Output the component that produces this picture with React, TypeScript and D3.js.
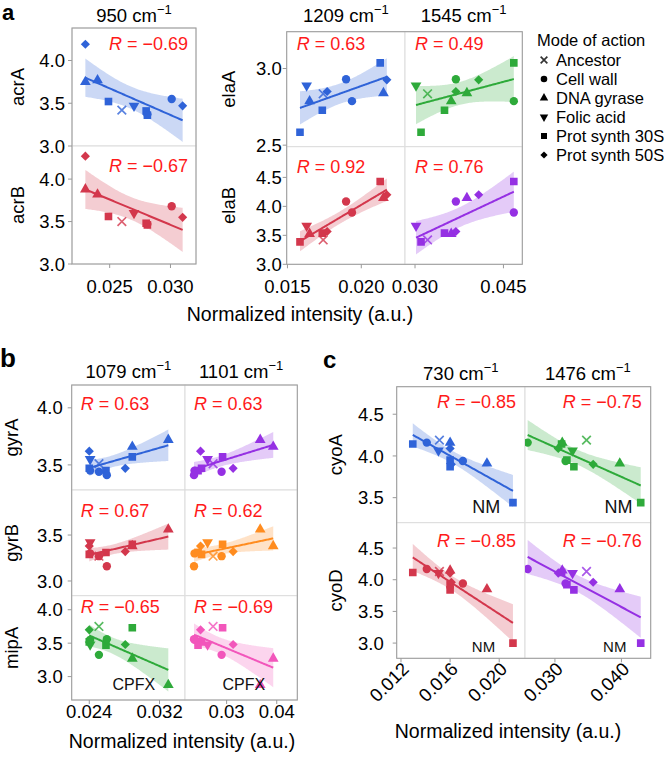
import * as d3 from 'd3';
import React from 'react';

type Shape = 'anc' | 'wall' | 'gyr' | 'fol' | 'p30' | 'p50';

// ---- panel a, 950 cm-1 : acrA / acrB
const acrShapes: Shape[] = ['p50', 'gyr', 'gyr', 'p30', 'anc', 'fol', 'p30', 'wall', 'p30', 'wall', 'p50'];
const acrX950 = [0.0230, 0.0230, 0.0240, 0.0249, 0.0260, 0.0270, 0.0280, 0.0281, 0.0281, 0.0301, 0.0310];
const acrA = [4.19, 3.75, 3.77, 3.52, 3.42, 3.47, 3.41, 3.37, 3.36, 3.55, 3.47];
const acrB = [4.27, 3.88, 3.82, 3.56, 3.50, 3.60, 3.48, 3.47, 3.46, 3.68, 3.55];

// ---- panel a, 1209 / 1545 cm-1 : elaA / elaB
const elaShapes: Shape[] = ['p30', 'fol', 'gyr', 'p30', 'anc', 'p50', 'wall', 'wall', 'p30', 'p50', 'gyr'];
const elaX1209 = [0.01585, 0.0163, 0.0165, 0.01736, 0.01742, 0.01769, 0.01897, 0.01937, 0.02128, 0.02173, 0.0215];
const elaX1545 = [0.03102, 0.03017, 0.03614, 0.0350, 0.03213, 0.03693, 0.03693, 0.04676, 0.04676, 0.0408, 0.0388];
const elaA = [2.584, 2.889, 2.787, 2.728, 2.835, 2.85, 2.93, 2.787, 3.037, 2.926, 2.84];
const elaB = [3.388, 3.665, 3.526, 3.538, 3.42, 3.566, 4.085, 3.894, 4.43, 4.2, 4.147];

// ---- panel b, 1079 / 1101 cm-1 : gyrA / gyrB / mipA
const gyrShapes: Shape[] = ['p50', 'fol', 'p30', 'wall', 'anc', 'wall', 'p30', 'wall', 'p50', 'p30', 'gyr', 'gyr'];
const gyrX1079 = [0.0240, 0.0241, 0.0240, 0.0241, 0.0251, 0.0251, 0.0259, 0.0260, 0.0281, 0.0289, 0.0289, 0.0330];
const gyrX1101 = [0.0248, 0.0262, 0.0250, 0.0236, 0.0273, 0.0290, 0.0243, 0.0235, 0.0313, 0.0292, 0.0393, 0.0367];
const gyrA = [3.62, 3.55, 3.47, 3.45, 3.51, 3.44, 3.45, 3.41, 3.47, 3.57, 3.66, 3.72];
const gyrB = [3.38, 3.42, 3.29, 3.30, 3.27, 3.27, 3.31, 3.16, 3.32, 3.40, 3.38, 3.56];
const mipA = [3.70, 3.48, 3.52, 3.55, 3.75, 3.325, 3.47, 3.56, 3.48, 3.73, 3.27, 2.875];

// ---- panel c, 730 / 1476 cm-1 : cyoA / cyoD
const cyoShapes: Shape[] = ['p30', 'wall', 'anc', 'fol', 'gyr', 'p50', 'p30', 'p30', 'wall', 'gyr', 'p30', 'p50'];
const cyoX730 = [0.01296, 0.0141, 0.01513, 0.01505, 0.0160, 0.0160, 0.0160, 0.0160, 0.01704, 0.0190, 0.02112, 0.0161];
const cyoX1476 = [0.0310, 0.0259, 0.03475, 0.03265, 0.0311, 0.0305, 0.0318, 0.03285, 0.0316, 0.03975, 0.0429, 0.03575];
const cyoA = [4.144, 4.16, 4.19, 4.064, 4.16, 4.09, 3.95, 3.87, 3.94, 3.91, 3.44, 3.90];
const cyoD = [4.115, 4.17, 4.13, 4.105, 4.147, 4.105, 3.92, 3.84, 3.94, 3.85, 3.00, 3.96];

const legendNames = ['Ancestor', 'Cell wall', 'DNA gyrase', 'Folic acid', 'Prot synth 30S', 'Prot synth 50S'];
const legendShapes: Shape[] = ['anc', 'wall', 'gyr', 'fol', 'p30', 'p50'];

const BLUE = '#2f63d8';
const RED = '#d3374c';
const GREEN = '#2eaa3a';
const PURPLE = '#9530e3';
const ORANGE = '#ff8c1f';
const PINK = '#f256bb';
const FONT = "'Liberation Sans', Arial, Helvetica, sans-serif";
const TICK = 18.5;

const tQ: Record<number, number> = { 7: 2.365, 8: 2.306, 9: 2.262, 10: 2.228, 11: 2.201, 12: 2.179 };

type BandPt = { x: number; fit: number; lo: number; hi: number };

// lm fit with 95% confidence band, like geom_smooth(method = "lm")
function fitBand(xs: number[], ys: number[]): BandPt[] {
  const n = xs.length;
  const mx = d3.mean(xs)!;
  const my = d3.mean(ys)!;
  let sxx = 0, sxy = 0;
  xs.forEach((x, i) => { sxx += (x - mx) ** 2; sxy += (x - mx) * (ys[i] - my); });
  const b = sxy / sxx;
  const a = my - b * mx;
  let sse = 0;
  xs.forEach((x, i) => { sse += (ys[i] - a - b * x) ** 2; });
  const s = Math.sqrt(sse / (n - 2));
  const t = tQ[n - 2] ?? 2.2;
  const [x0, x1] = d3.extent(xs) as [number, number];
  return d3.range(81).map(i => {
    const x = x0 + ((x1 - x0) * i) / 80;
    const fit = a + b * x;
    const se = s * Math.sqrt(1 / n + (x - mx) ** 2 / sxx);
    return { x, fit, lo: fit - t * se, hi: fit + t * se };
  });
}

function symbolD(s: Shape, k = 1) {
  if (s === 'anc') return d3.symbol(d3.symbolX, 50 * k)()!;
  if (s === 'wall') return d3.symbol(d3.symbolCircle, 55 * k)()!;
  if (s === 'gyr' || s === 'fol') return d3.symbol(d3.symbolTriangle, 50 * k)()!;
  if (s === 'p30') return d3.symbol(d3.symbolSquare, 58 * k)()!;
  return d3.symbol(d3.symbolSquare, 42 * k)()!;
}
const symbolRot = (s: Shape) => (s === 'fol' ? 180 : s === 'p50' ? 45 : 0);

const Marker: React.FC<{ s: Shape; x: number; y: number; color: string; k?: number }> = ({ s, x, y, color, k = 1 }) =>
  s === 'anc' ? (
    <path d={symbolD(s, k)} transform={`translate(${x},${y})`} fill="none" stroke={color} strokeWidth={1.7} strokeOpacity={0.8} />
  ) : (
    <path d={symbolD(s, k)} transform={`translate(${x},${y}) rotate(${symbolRot(s)})`} fill={color} />
  );

type Col = { x0: number; x1: number; domain: [number, number]; ticks: number[]; fmt: string; title: string; xs: number[] };
type Row = { y0: number; y1: number; domain: [number, number]; ticks: number[]; label: string; ys: number[]; rDy: number };
type Note = { row: number; col: number; text: string; x: number; y: number; size: number };

interface BlockProps {
  id: string;
  cols: Col[];
  rows: Row[];
  shapes: Shape[];
  colors: string[][];
  rText: string[][];
  rAlign: 'left' | 'right';
  rPad: number;
  tickGap: number;
  rowLabelX: number;
  titleY: number;
  xTickY: number;
  rotateX?: boolean;
  notes?: Note[];
}

const Title: React.FC<{ x: number; y: number; text: string }> = ({ x, y, text }) => (
  <text x={x} y={y} textAnchor="middle" fontSize={18.5}>
    {text} cm<tspan dy={-8} fontSize={13}>−1</tspan>
  </text>
);

const Block: React.FC<BlockProps> = ({ id, cols, rows, shapes, colors, rText, rAlign, rPad, tickGap, rowLabelX, titleY, xTickY, rotateX, notes = [] }) => {
  const left = cols[0].x0;
  const right = cols[cols.length - 1].x1;
  const top = rows[0].y0;
  const bottom = rows[rows.length - 1].y1;
  const xScales = cols.map(c => d3.scaleLinear().domain(c.domain).range([c.x0, c.x1]));
  const yScales = rows.map(r => d3.scaleLinear().domain(r.domain).range([r.y1, r.y0]));

  return (
    <g>
      {rows.map((r, ri) =>
        cols.map((c, ci) => {
          const xs = xScales[ci];
          const ys = yScales[ri];
          const color = colors[ri][ci];
          const band = fitBand(c.xs, r.ys);
          const area = d3.area<BandPt>().x(d => xs(d.x)).y0(d => ys(d.lo)).y1(d => ys(d.hi));
          const line = d3.line<BandPt>().x(d => xs(d.x)).y(d => ys(d.fit));
          const clip = `${id}-${ri}-${ci}`;
          return (
            <g key={clip}>
              <clipPath id={clip}>
                <rect x={c.x0} y={r.y0} width={c.x1 - c.x0} height={r.y1 - r.y0} />
              </clipPath>
              <rect x={c.x0} y={r.y0} width={c.x1 - c.x0} height={r.y1 - r.y0} fill="#fff" stroke="#dcdcdc" />
              <g clipPath={`url(#${clip})`}>
                <path d={area(band)!} fill={color} fillOpacity={0.25} />
                <path d={line(band)!} fill="none" stroke={color} strokeWidth={2} />
                {shapes.map((s, i) => (
                  <Marker key={i} s={s} x={xs(c.xs[i])} y={ys(r.ys[i])} color={color} />
                ))}
              </g>
              <text
                x={rAlign === 'left' ? c.x0 + rPad : c.x1 - rPad}
                y={r.y0 + r.rDy}
                textAnchor={rAlign === 'left' ? 'start' : 'end'}
                fill="#ff1a1a"
                fontSize={18}
              >
                <tspan fontStyle="italic">R</tspan> = {rText[ri][ci]}
              </text>
            </g>
          );
        })
      )}
      {notes.map((n, i) => (
        <text key={i} x={xScales[n.col](n.x)} y={yScales[n.row](n.y)} textAnchor="end" fontSize={n.size} fill="#111">
          {n.text}
        </text>
      ))}
      <rect x={left} y={top} width={right - left} height={bottom - top} fill="none" stroke="#9a9a9a" />
      {rows.map((r, ri) => (
        <g key={`y${ri}`}>
          {r.ticks.map(t => (
            <g key={t}>
              <line x1={left - 4} x2={left} y1={yScales[ri](t)} y2={yScales[ri](t)} stroke="#9a9a9a" />
              <text x={left - tickGap} y={yScales[ri](t)} dy="0.36em" textAnchor="end" fontSize={TICK}>
                {d3.format('.1f')(t)}
              </text>
            </g>
          ))}
          <text transform={`translate(${rowLabelX},${(r.y0 + r.y1) / 2}) rotate(-90)`} textAnchor="middle" fontSize={18.5}>
            {r.label}
          </text>
        </g>
      ))}
      {cols.map((c, ci) => (
        <g key={`x${ci}`}>
          <Title x={(c.x0 + c.x1) / 2} y={titleY} text={c.title} />
          {c.ticks.map(t => (
            <g key={t}>
              <line x1={xScales[ci](t)} x2={xScales[ci](t)} y1={bottom} y2={bottom + 4} stroke="#9a9a9a" />
              {rotateX ? (
                <text transform={`translate(${xScales[ci](t) + 9},${bottom + 12}) rotate(-45)`} textAnchor="end" fontSize={TICK}>
                  {d3.format(c.fmt)(t)}
                </text>
              ) : (
                <text x={xScales[ci](t)} y={xTickY} textAnchor="middle" fontSize={TICK}>
                  {d3.format(c.fmt)(t)}
                </text>
              )}
            </g>
          ))}
        </g>
      ))}
    </g>
  );
};

const Legend: React.FC = () => (
  <g>
    <text x={537} y={46} fontSize={16.5}>Mode of action</text>
    {legendNames.map((name, i) => (
      <g key={name}>
        <Marker s={legendShapes[i]} x={544} y={60 + i * 19} color="#000" k={0.62} />
        <text x={556} y={66 + i * 19} fontSize={16.5}>{name}</text>
      </g>
    ))}
  </g>
);

const App: React.FC = () => (
  <svg width={664} height={759} style={{ position: 'absolute', left: 0, top: 0, background: '#fff' }} fontFamily={FONT}>
    <rect width={664} height={759} fill="#fff" />

    {/* a */}
    <text x={2} y={20} fontSize={22} fontWeight="bold">a</text>
    <Block
      id="a1"
      cols={[{ x0: 72, x1: 196, domain: [0.0219, 0.0321], ticks: [0.025, 0.03], fmt: '.3f', title: '950', xs: acrX950 }]}
      rows={[
        { y0: 28, y1: 146, domain: [3.0, 4.38], ticks: [3, 3.5, 4], label: 'acrA', ys: acrA, rDy: 22 },
        { y0: 146, y1: 264, domain: [3.0, 4.39], ticks: [3, 3.5, 4], label: 'acrB', ys: acrB, rDy: 26 },
      ]}
      shapes={acrShapes}
      colors={[[BLUE], [RED]]}
      rText={[['−0.69'], ['−0.67']]}
      rAlign="right"
      rPad={8}
      tickGap={7}
      rowLabelX={24}
      titleY={22}
      xTickY={293}
    />
    <Block
      id="a2"
      cols={[
        { x0: 286.7, x1: 405, domain: [0.01495, 0.02296], ticks: [0.015, 0.02], fmt: '.3f', title: '1209', xs: elaX1209 },
        { x0: 405, x1: 522.3, domain: [0.0283, 0.0482], ticks: [0.03, 0.045], fmt: '.3f', title: '1545', xs: elaX1545 },
      ]}
      rows={[
        { y0: 31.7, y1: 146.7, domain: [2.49, 3.24], ticks: [2.5, 3], label: 'elaA', ys: elaA, rDy: 18 },
        { y0: 146.7, y1: 264.3, domain: [3.0, 5.03], ticks: [3, 3.5, 4, 4.5], label: 'elaB', ys: elaB, rDy: 26 },
      ]}
      shapes={elaShapes}
      colors={[[BLUE, GREEN], [RED, PURPLE]]}
      rText={[['0.63', '0.49'], ['0.92', '0.76']]}
      rAlign="left"
      rPad={10}
      tickGap={5}
      rowLabelX={235}
      titleY={22}
      xTickY={293}
    />
    <text x={300} y={321} textAnchor="middle" fontSize={19.5}>Normalized intensity (a.u.)</text>
    <Legend />

    {/* b */}
    <text x={0} y={367} fontSize={26} fontWeight="bold">b</text>
    <Block
      id="b"
      cols={[
        { x0: 71.7, x1: 185, domain: [0.022, 0.0349], ticks: [0.024, 0.032], fmt: '.3f', title: '1079', xs: gyrX1079 },
        { x0: 185, x1: 297.3, domain: [0.0217, 0.0441], ticks: [0.03, 0.04], fmt: '.2f', title: '1101', xs: gyrX1101 },
      ]}
      rows={[
        { y0: 385, y1: 490, domain: [3.28, 4.2], ticks: [3.5, 4], label: 'gyrA', ys: gyrA, rDy: 25 },
        { y0: 490, y1: 595.7, domain: [2.84, 3.99], ticks: [3, 3.5], label: 'gyrB', ys: gyrB, rDy: 27 },
        { y0: 595.7, y1: 700, domain: [2.65, 4.21], ticks: [3, 3.5, 4], label: 'mipA', ys: mipA, rDy: 17 },
      ]}
      shapes={gyrShapes}
      colors={[[BLUE, PURPLE], [RED, ORANGE], [GREEN, PINK]]}
      rText={[['0.63', '0.63'], ['0.67', '0.62'], ['−0.65', '−0.69']]}
      rAlign="left"
      rPad={9}
      tickGap={9}
      rowLabelX={18}
      titleY={378}
      xTickY={718}
      notes={[
        { row: 2, col: 0, text: 'CPFX', x: 0.0315, y: 2.8, size: 16 },
        { row: 2, col: 1, text: 'CPFX', x: 0.0377, y: 2.8, size: 16 },
      ]}
    />
    <text x={182} y={748} textAnchor="middle" fontSize={19.5}>Normalized intensity (a.u.)</text>

    {/* c */}
    <text x={323} y={368} fontSize={24} fontWeight="bold">c</text>
    <Block
      id="c"
      cols={[
        { x0: 396.7, x1: 525, domain: [0.01165, 0.0221], ticks: [0.012, 0.016, 0.02], fmt: '.3f', title: '730', xs: cyoX730 },
        { x0: 525, x1: 650.7, domain: [0.0255, 0.0444], ticks: [0.03, 0.04], fmt: '.3f', title: '1476', xs: cyoX1476 },
      ]}
      rows={[
        { y0: 386.7, y1: 522.7, domain: [3.2, 4.83], ticks: [3.5, 4, 4.5], label: 'cyoA', ys: cyoA, rDy: 21 },
        { y0: 522.7, y1: 658.3, domain: [2.76, 4.9], ticks: [3, 3.5, 4, 4.5], label: 'cyoD', ys: cyoD, rDy: 24 },
      ]}
      shapes={cyoShapes}
      colors={[[BLUE, GREEN], [RED, PURPLE]]}
      rText={[['−0.85', '−0.75'], ['−0.85', '−0.76']]}
      rAlign="right"
      rPad={9}
      tickGap={13}
      rowLabelX={342}
      titleY={380}
      xTickY={0}
      rotateX
      notes={[
        { row: 0, col: 0, text: 'NM', x: 0.02008, y: 3.32, size: 18 },
        { row: 1, col: 0, text: 'NM', x: 0.01967, y: 2.867, size: 15 },
        { row: 0, col: 1, text: 'NM', x: 0.04165, y: 3.32, size: 18 },
        { row: 1, col: 1, text: 'NM', x: 0.04075, y: 2.867, size: 15 },
      ]}
    />
    <text x={508} y={738} textAnchor="middle" fontSize={19.5}>Normalized intensity (a.u.)</text>
  </svg>
);

export default App;
